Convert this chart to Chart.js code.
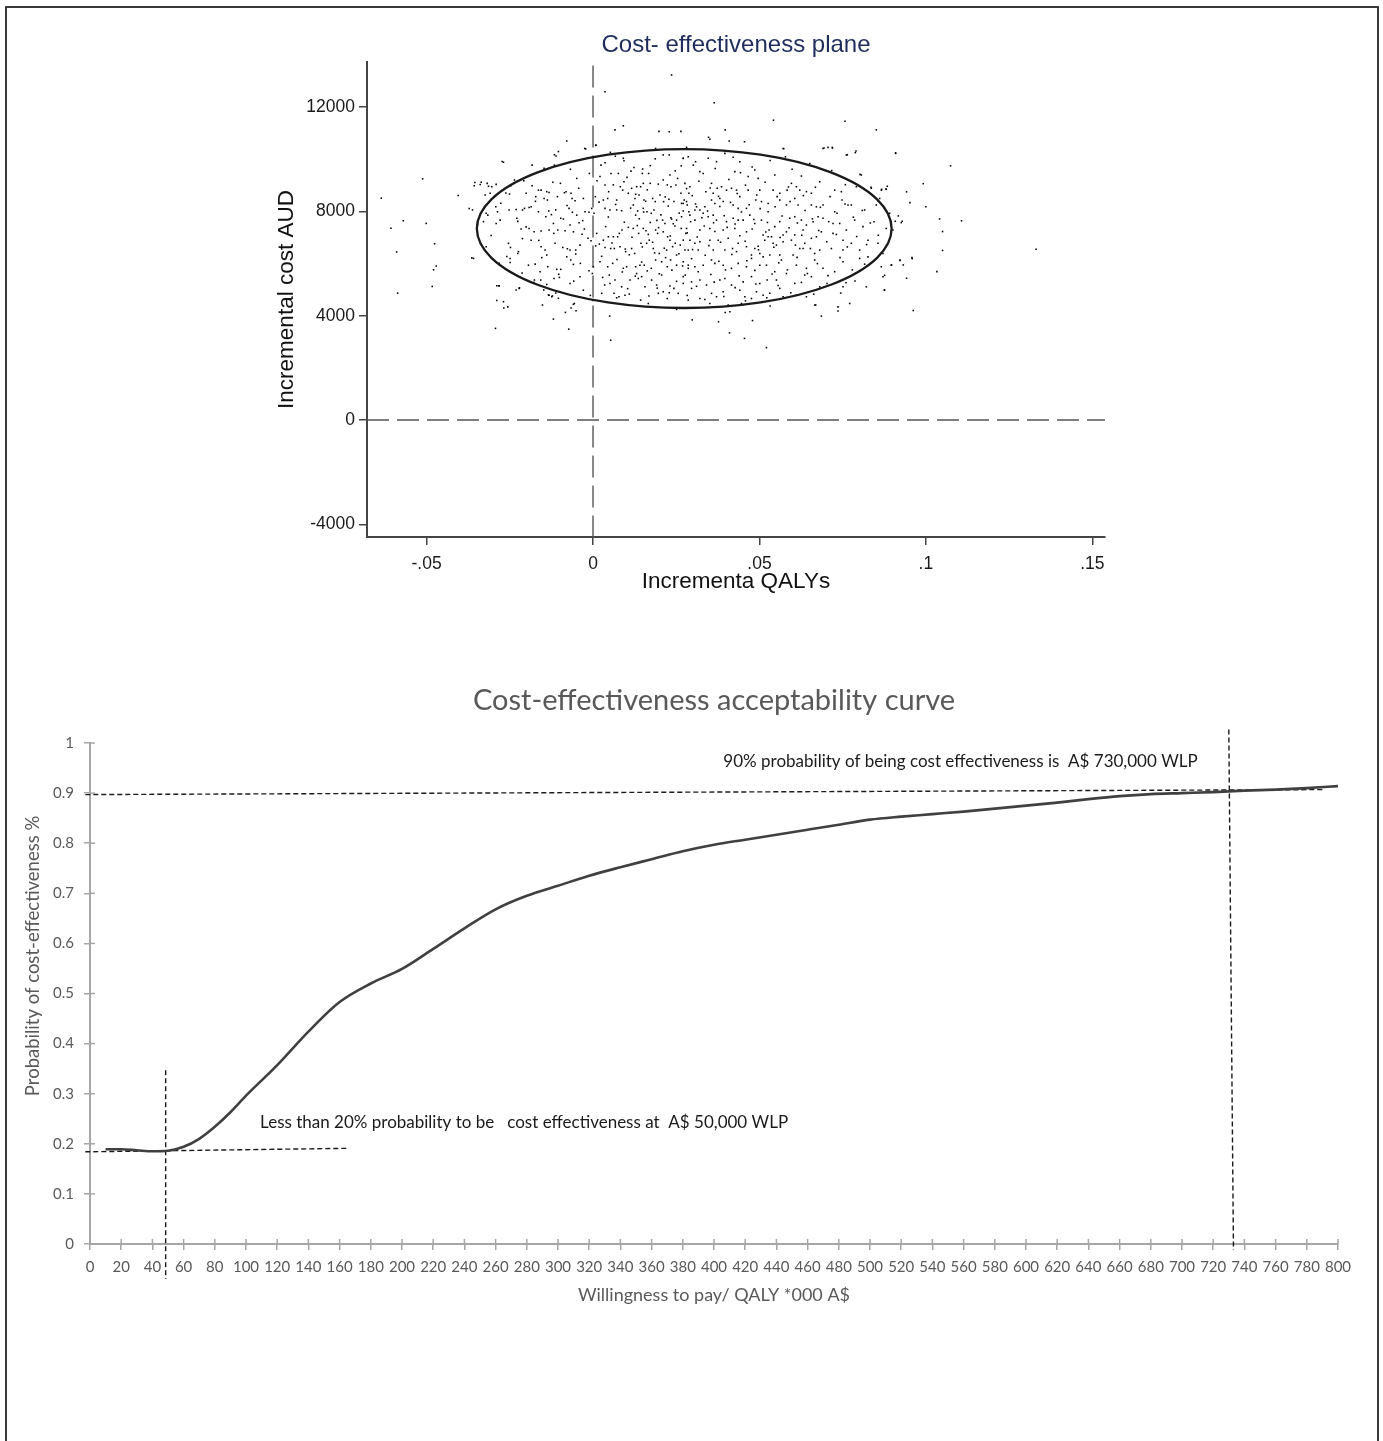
<!DOCTYPE html>
<html>
<head>
<meta charset="utf-8">
<title>Cost-effectiveness plane and acceptability curve</title>
<script src="https://cdn.jsdelivr.net/npm/chart.js@4.4.1/dist/chart.umd.min.js"></script>
<style>
  html, body { margin: 0; padding: 0; background: #fff; }
  body { width: 1383px; height: 1441px; position: relative; overflow: hidden; }
  #frame { position: absolute; left: 5px; top: 6px; width: 1370px; height: 1440px; border: 2px solid #3a3a3a; }
  canvas { position: absolute; }
</style>
</head>
<body>
<div id="frame"></div>
<canvas id="plane" width="880" height="610" style="left:250px;top:0px"></canvas>
<canvas id="ceac" width="1383" height="680" style="left:0px;top:660px"></canvas>
<script>
// ---- cost-effectiveness plane (bootstrap replicates: [incremental QALY, incremental cost AUD]) ----
var qalyRange = [-0.0679, 0.1538];
var costRange = [-4489, 13736];
var qalyTicks = [-0.05, 0, 0.05, 0.1, 0.15];
var qalyTickLabels = ['-.05', '0', '.05', '.1', '.15'];
var costTicks = [-4000, 0, 4000, 8000, 12000];
var costTickLabels = ['-4000', '0', '4000', '8000', '12000'];

// confidence ellipse: centre and half-widths
var ellipseCentre = [0.0274, 7345];
var ellipseRadius = [0.0623, 3048];

var outerPoints = [
[0.0236,13238],[0.0036,12598],[0.0364,12171],[0.0542,11502],[0.0757,11459],[0.0091,11288],[0.0198,11075],[0.0264,11075],
[0.0397,11132],[0.0851,11132],[0.0066,11132],[0.0347,10847],[-0.0079,10705],[0.0455,10676],[-0.0025,10420],[0.0008,10534],
[0.0694,10434],[0.0719,10434],[0.0790,10320],[0.0764,10178],[0.0909,10249],[-0.0116,10178],[-0.0273,9922],[0.1074,9751],
[-0.0512,9253],[0.0992,9068],[0.0802,9424],[-0.0355,9110],[-0.0339,9039],[-0.0314,8968],[0.0884,8968],[0.0942,8754],
[-0.0405,8612],[-0.0636,8512],[0.1000,8185],[-0.0372,8114],[0.0917,7830],[0.1041,7715],[0.1107,7644],[-0.0570,7644],
[-0.0501,7544],[0.0926,7573],[-0.0607,7359],[0.1050,7231],[-0.0476,6762],[0.1331,6548],[-0.0590,6448],[0.1050,6505],
[-0.0364,6221],[0.0959,6192],[0.0922,6121],[-0.0471,5907],[-0.0479,5765],[0.0876,5552],[0.1033,5694],[0.0942,5438],
[-0.0289,5153],[-0.0483,5125],[-0.0587,4868],[0.0760,5267],[-0.0289,4584],[-0.0152,4413],[0.0000,4584],[-0.0268,4299],
[-0.0066,4299],[0.0669,4413],[0.0736,4185],[-0.0083,4128],[0.0962,4200],[0.0050,3986],[0.0251,4242],[0.0397,4128],
[-0.0119,3872],[0.0298,3843],[0.0377,3772],[0.0479,3815],[0.0686,3986],[-0.0293,3516],[-0.0073,3488],[0.0410,3345],
[0.0455,3132],[0.0053,3061],[0.0521,2776],
[0.0229,11060],[0.0351,10770],[0.0409,10705],[0.0573,10410],[0.0835,8930],[0.0867,8850],[0.0880,8860],[0.0952,8340],
[0.0908,7625],[0.0929,7625],[0.0958,6230],[0.0922,6140],[0.0932,5950],[0.0897,5950],[0.0875,4990],[0.0532,4375],
[0.0411,4155],[-0.0283,5140],[-0.0222,5050],[-0.0059,4440],[-0.0051,4195],[-0.0104,4670],[-0.0134,4800],[-0.0122,4760],
[-0.0148,4990],[-0.0259,6270],[-0.0249,6040],[-0.0224,6460]
];

var leftCloud = [
[-0.0104,10300],[-0.0111,10130],[-0.0269,9890],[-0.0183,9780],[-0.0147,9660],[-0.0116,9780],[-0.0022,10400],[0.0009,10550],
[0.0036,9870],[0.0091,10040],[0.0093,9950],[0.0114,9550],[0.0149,9630],[0.0148,9460],[0.0172,9760],[0.0211,10170],
[0.0229,10170],[0.0265,9750],[0.0271,10040],[0.0281,10460],[0.0188,10420],
[-0.0357,8990],[-0.0336,9120],[-0.0318,9080],[-0.0304,8950],[-0.0291,9040],[-0.0247,8990],[-0.0236,9210],[-0.0208,9180],
[-0.0183,8990],[-0.0164,8820],[-0.0156,8820],[-0.0132,8730],[-0.0098,9080],[-0.0086,8720],[-0.0066,8700],[-0.0049,9270],
[0.0021,9340],[0.0036,9020],[0.0054,9460],[0.0061,9020],[0.0076,9460],[0.0093,9140],[0.0116,8890],[0.0131,8950],
[0.0143,8950],[0.0151,9080],[0.0167,9460],[0.0172,9080],[0.0211,9210],[0.0223,9020],[0.0231,9400],[0.0234,8950],
[0.0249,9020],[0.0264,8700],[0.0276,9080],[0.0288,8700],
[-0.0324,8630],[-0.0309,8700],[-0.0251,8670],[-0.0201,8700],[-0.0172,8570],[-0.0139,8760],[-0.0147,8500],[-0.0137,8440],
[-0.0107,8570],[-0.0081,8760],[-0.0063,8500],[-0.0029,8500],[0.0007,8570],[0.0031,8440],[0.0044,8500],[0.0071,8440],
[0.0089,8820],[0.0106,8700],[0.0126,8500],[0.0138,8630],[0.0153,8440],[0.0179,8500],[0.0187,8380],[0.0201,8630],
[0.0212,8380],[0.0228,8470],[0.0243,8380],[0.0266,8310],[0.0283,8250],
[-0.0362,8060],[-0.0321,7930],[-0.0316,7860],[-0.0292,8180],[-0.0287,7990],[-0.0252,8060],[-0.0231,8080],[-0.0212,8060],
[-0.0206,8120],[-0.0192,8150],[-0.0186,8180],[-0.0164,7990],[-0.0142,7800],[-0.0133,8020],[-0.0112,8060],[-0.0097,7740],
[-0.0089,7710],[-0.0072,8120],[-0.0062,7970],[-0.0049,7860],[-0.0024,7990],[-0.0012,7970],[-0.0004,8120],[0.0003,7930],
[0.0036,8120],[0.0051,8060],[0.0071,8060],[0.0086,8030],[0.0121,8250],[0.0128,7860],[0.0134,8020],[0.0151,8120],
[0.0162,7990],[0.0175,7930],[0.0192,7660],[0.0209,7670],[0.0216,7540],[0.0234,7760],[0.0251,7670],[0.0271,8020],
[0.0288,7990],
[-0.0347,7510],[-0.0329,7610],[-0.0291,7540],[-0.0279,7670],[-0.0229,7740],[-0.0216,7330],[-0.0192,7350],[-0.0177,7220],
[-0.0156,7250],[-0.0132,7290],[-0.0119,7540],[-0.0106,7290],[-0.0084,7260],[-0.0069,7480],[-0.0059,7220],[-0.0042,7570],
[-0.0033,7130],[-0.0015,6970],[0.0011,7160],[0.0031,6900],[0.0046,7030],[0.0061,7030],[0.0074,7030],[0.0087,7290],
[0.0106,7390],[0.0121,7350],[0.0137,7160],[0.0151,7350],[0.0159,7260],[0.0169,6900],[0.0188,7290],[0.0194,7160],
[0.0211,7220],[0.0224,7030],[0.0231,6900],[0.0247,6780],[0.0265,7350],[0.0279,7160],
[-0.0321,6650],[-0.0254,6780],[-0.0186,6900],[-0.0156,6650],[-0.0144,6520],[-0.0139,6330],[-0.0114,6780],[-0.0091,6620],
[-0.0069,6520],[-0.0052,6520],[-0.0039,6710],[-0.0006,6880],[0.0019,6750],[0.0036,6620],[0.0053,6580],[0.0064,6580],
[0.0081,6650],[0.0098,6460],[0.0116,6580],[0.0125,6390],[0.0144,6780],[0.0161,6780],[0.0181,6580],[0.0199,6390],
[0.0221,6520],[0.0239,6650],[0.0251,6330],[0.0276,6520],
[-0.0359,6200],[-0.0249,6200],[-0.0226,6390],[-0.0194,5940],[-0.0174,5980],[-0.0159,5690],[-0.0136,5880],[-0.0109,5780],
[-0.0097,5780],[-0.0079,6260],[-0.0067,6140],[-0.0059,5970],[-0.0038,6010],[0.0001,5880],[0.0021,6070],[0.0044,5880],
[0.0059,6010],[0.0091,5820],[0.0101,5880],[0.0128,5880],[0.0141,5940],[0.0154,5940],[0.0175,5820],[0.0188,6140],
[0.0206,6070],[0.0223,5880],[0.0233,6140],[0.0251,5940],[0.0269,5910],[0.0286,5820],
[-0.0282,5150],[-0.0221,5070],[-0.0176,5370],[-0.0157,5370],[-0.0139,5200],[-0.0117,5430],[-0.0101,5470],[-0.0069,5240],
[-0.0039,5500],[-0.0002,5620],[0.0029,5470],[0.0051,5240],[0.0066,5370],[0.0086,5110],[0.0111,5370],[0.0131,5620],
[0.0146,5500],[0.0156,5110],[0.0176,5370],[0.0191,5180],[0.0206,5560],[0.0231,5140],[0.0243,5050],[0.0271,5240],
[-0.0269,4540],[-0.0256,4340],[-0.0132,4790],[-0.0124,4730],[-0.0099,4920],[-0.0056,4470],[-0.0029,4980],[0.0026,4860],
[0.0063,4860],[0.0078,4730],[0.0096,4790],[0.0109,4830],[0.0143,4600],[0.0166,4470],[0.0196,4860],[0.0211,4920],
[0.0229,4880],[0.0256,4860]
];

var rightCloud = [
[0.0271,10040],[0.0286,10100],[0.0301,9780],[0.0346,10040],[0.0371,9910],[0.0396,10230],[0.0441,9910],[0.0426,9530],
[0.0443,9490],[0.0466,9340],[0.0486,9590],[0.0496,9270],[0.0546,9400],[0.0571,10420],[0.0578,10100],[0.0626,9360],
[0.0691,10420],[0.0706,10460],[0.0719,10460],[0.0761,10170],[0.0788,10260],[0.0806,9400],[0.0909,10230],[0.0321,9530],
[0.0331,9460],[0.0356,9080],
[0.0291,8950],[0.0339,8760],[0.0361,8700],[0.0373,8890],[0.0386,8950],[0.0401,8820],[0.0416,8890],[0.0431,8820],
[0.0466,8820],[0.0501,8820],[0.0541,8820],[0.0561,8700],[0.0583,8820],[0.0596,9080],[0.0611,8950],[0.0621,8820],
[0.0641,8760],[0.0656,8700],[0.0681,9140],[0.0726,8820],[0.0746,8760],[0.0836,8890],[0.0861,8500],[0.0866,8820],
[0.0881,8850],[0.0791,8950],
[0.0271,8310],[0.0281,8380],[0.0311,8180],[0.0321,8060],[0.0306,8060],[0.0336,8180],[0.0356,8440],[0.0366,8310],
[0.0381,8500],[0.0391,8380],[0.0421,8250],[0.0436,8120],[0.0441,8570],[0.0461,8120],[0.0489,8440],[0.0506,8380],
[0.0526,8310],[0.0561,8440],[0.0581,8250],[0.0606,8500],[0.0616,8250],[0.0656,8250],[0.0671,8180],[0.0691,8250],
[0.0726,7990],[0.0748,8440],[0.0766,8250],[0.0776,8250],[0.0816,8060],[0.0851,8250],[0.0891,7930],
[0.0266,7800],[0.0291,7860],[0.0306,7670],[0.0331,7930],[0.0346,7800],[0.0361,7860],[0.0371,7670],[0.0401,7610],
[0.0421,7740],[0.0436,7670],[0.0451,7670],[0.0471,7860],[0.0486,7540],[0.0506,7670],[0.0526,7990],[0.0546,7420],
[0.0561,7610],[0.0591,7740],[0.0606,7800],[0.0626,7670],[0.0641,7480],[0.0661,7610],[0.0676,7800],[0.0691,7740],
[0.0721,7540],[0.0741,7540],[0.0761,7290],[0.0786,7670],[0.0811,7420],[0.0844,7610],[0.0881,7350],[0.0901,7290],
[0.0281,7350],[0.0321,7290],[0.0351,7350],[0.0391,7290],[0.0426,7350],[0.0461,7220],[0.0511,7100],[0.0529,7290],
[0.0536,7030],[0.0571,7100],[0.0581,7220],[0.0606,7100],[0.0631,7290],[0.0671,7030],[0.0686,7220],[0.0721,7160],
[0.0751,6900],
[0.0271,6900],[0.0291,6900],[0.0306,6780],[0.0321,6840],[0.0351,6900],[0.0376,6900],[0.0406,6970],[0.0436,6780],
[0.0461,6650],[0.0486,6580],[0.0496,6670],[0.0516,6900],[0.0526,7030],[0.0541,6780],[0.0551,6710],[0.0571,6840],
[0.0596,6900],[0.0621,6580],[0.0636,6780],[0.0656,6970],[0.0666,6390],[0.0681,6520],[0.0716,6580],[0.0751,6520],
[0.0776,6780],[0.0801,6520],[0.0826,6900],[0.0856,6780],[0.0871,6390],[0.0286,6520],[0.0316,6520],[0.0361,6520],
[0.0396,6520],[0.0431,6460],[0.0476,6330],[0.0501,6390],[0.0531,6330],[0.0561,6330],[0.0601,6330],[0.0631,6580],
[0.0271,6070],[0.0286,5940],[0.0306,5880],[0.0331,5940],[0.0356,6140],[0.0366,6010],[0.0391,5940],[0.0416,5820],
[0.0436,6010],[0.0461,5880],[0.0476,6200],[0.0501,5940],[0.0521,5940],[0.0546,5690],[0.0566,6140],[0.0611,5940],
[0.0641,5820],[0.0666,6140],[0.0691,5820],[0.0726,5690],[0.0751,6070],[0.0801,6200],[0.0826,6260],[0.0866,5880],
[0.0896,5940],
[0.0271,5500],[0.0296,5300],[0.0321,5370],[0.0341,5180],[0.0381,5370],[0.0396,5430],[0.0416,5180],[0.0451,5300],
[0.0476,5500],[0.0501,5240],[0.0523,5370],[0.0551,5370],[0.0581,5620],[0.0606,5240],[0.0636,5560],[0.0656,5500],
[0.0681,5110],[0.0751,5110],[0.0821,5110],[0.0871,5500],[0.0876,4980],[0.0296,5050],[0.0356,4860],[0.0391,4920],
[0.0441,4980],[0.0456,4730],[0.0491,4920],[0.0531,4860],[0.0561,5050],
[0.0286,4600],[0.0321,4660],[0.0351,4470],[0.0371,4730],[0.0406,4410],[0.0446,4470],[0.0476,4660],[0.0511,4790],
[0.0571,4730],[0.0611,4790],[0.0641,4730],[0.0666,4410],[0.0736,4340],[0.0771,4470]
];

// further replicates in the crowded middle of the cloud (positions estimated)
var denseCore = [
[-0.0195,9350],[-0.0121,9120],[-0.0043,8890],[0.0012,9180],[0.0047,8760],[0.0102,9310],[0.0128,8660],[0.0163,8830],
[0.0196,9050],[0.0217,8560],[0.0254,9270],[0.0298,8610],[0.0318,9160],[0.0352,8900],[0.0377,8580],[0.0408,9230],
[0.0433,8690],[0.0458,9010],[0.0492,8630],[0.0517,9120],[0.0553,8570],[0.0587,8940],[0.0632,8610],[0.0668,8930],
[0.0712,8570],[0.0758,9030],[-0.0262,8710],[-0.0011,9460],[0.0082,8950],[0.0281,8880],
[-0.0277,8320],[-0.0226,7620],[-0.0173,8390],[-0.0125,7880],[-0.0078,8230],[-0.0031,7650],[0.0018,8360],[0.0046,7790],
[0.0068,8270],[0.0094,7590],[0.0113,8130],[0.0139,7720],[0.0158,8390],[0.0172,7580],[0.0183,8060],[0.0204,7870],
[0.0226,8210],[0.0241,7530],[0.0259,7940],[0.0274,8440],[0.0293,7610],[0.0308,8290],[0.0327,7760],[0.0344,8020],
[0.0362,7570],[0.0381,8190],[0.0394,7840],[0.0413,8350],[0.0427,7520],[0.0446,7980],[0.0469,8260],[0.0483,7690],
[0.0502,8110],[0.0524,7580],[0.0547,8180],[0.0568,7830],[0.0592,8380],[0.0614,7560],[0.0637,8040],[0.0659,7720],
[0.0683,8160],[0.0708,7610],[0.0733,7930],[0.0757,8290],[0.0782,7780],[0.0809,8040],[0.0833,7560],[-0.0054,8410],
[0.0152,7980],[0.0236,7710],
[-0.0306,7080],[-0.0248,6620],[-0.0201,7410],[-0.0163,6890],[-0.0118,7160],[-0.0077,6570],[-0.0026,7330],[0.0008,6680],
[0.0038,7420],[0.0057,6790],[0.0079,7160],[0.0097,6560],[0.0117,7010],[0.0133,7460],[0.0148,6640],[0.0166,7120],
[0.0179,6820],[0.0197,7380],[0.0214,6590],[0.0232,7060],[0.0246,7440],[0.0262,6710],[0.0283,7180],[0.0299,6540],
[0.0313,7020],[0.0334,7440],[0.0348,6690],[0.0366,7230],[0.0383,6820],[0.0403,7390],[0.0419,6580],[0.0441,7070],
[0.0457,6860],[0.0478,7330],[0.0497,6530],[0.0519,7210],[0.0543,6630],[0.0562,7000],[0.0589,7380],[0.0608,6710],
[0.0627,7090],[0.0653,6580],[0.0678,7270],[0.0702,6840],[0.0731,7120],[0.0764,6640],[0.0792,7040],[0.0822,6730],
[0.0857,7090],[-0.0212,6960],
[-0.0282,6010],[-0.0213,5640],[-0.0154,6230],[-0.0103,5590],[-0.0052,6370],[-0.0012,5730],[0.0026,6280],[0.0049,5560],
[0.0072,6160],[0.0088,5680],[0.0109,6340],[0.0127,5520],[0.0146,6060],[0.0163,5720],[0.0185,6410],[0.0199,5610],
[0.0218,6230],[0.0237,5750],[0.0258,6380],[0.0277,5560],[0.0296,6190],[0.0316,5690],[0.0337,6320],[0.0354,5580],
[0.0378,6090],[0.0398,5760],[0.0417,6350],[0.0439,5530],[0.0462,6110],[0.0486,5740],[0.0511,6260],[0.0538,5600],
[0.0558,6030],[0.0584,5760],[0.0613,6240],[0.0644,5620],[0.0674,6000],[0.0706,5540],[0.0742,6230],[0.0779,5760],
[0.0816,5980],
[-0.0231,4990],[-0.0178,5280],[-0.0112,4870],[-0.0058,5330],[-0.0008,4780],[0.0035,5180],[0.0071,4690],[0.0104,5040],
[0.0136,5430],[0.0168,4760],[0.0193,5060],[0.0223,4660],[0.0251,5320],[0.0283,4780],[0.0311,5130],[0.0336,4620],
[0.0364,5290],[0.0393,4740],[0.0427,5080],[0.0458,4570],[0.0489,5220],[0.0522,4690],[0.0556,5160],[0.0594,4880],
[0.0626,5280],[0.0663,4830],[0.0703,5240],[0.0744,4870],[0.0787,5330],
[-0.0068,9620],[0.0024,9780],[0.0067,10120],[0.0123,9690],[0.0187,10020],[0.0247,9560],[0.0308,9910],[0.0367,9650],
[0.0421,10080],[0.0478,9710],[0.0532,9960],[0.0598,9620],[0.0651,9840],[0.0717,9570],[0.0052,10270]
];

// ---- acceptability curve ----
var wtp = [10, 20, 30, 40, 50, 60, 70, 80, 90, 100, 120, 140, 160, 180, 200, 220, 240, 260, 280, 300,
           320, 340, 360, 380, 400, 420, 440, 460, 480, 500, 520, 540, 560, 580, 600, 620, 640, 660,
           680, 700, 720, 740, 760, 780, 800];
var probCE = [0.189, 0.189, 0.187, 0.185, 0.186, 0.194, 0.210, 0.234, 0.263, 0.296, 0.357, 0.424, 0.483, 0.520,
              0.549, 0.589, 0.630, 0.668, 0.695, 0.715, 0.735, 0.752, 0.768, 0.784, 0.797, 0.807, 0.817, 0.827,
              0.837, 0.847, 0.853, 0.858, 0.863, 0.869, 0.875, 0.881, 0.888, 0.894, 0.898, 0.900, 0.902, 0.905,
              0.907, 0.910, 0.914];
var line90 = [[-3, 0.897], [790, 0.907]];
var line20 = [[-3, 0.184], [166, 0.191]];
var wtp730 = [[730, 1.027], [733, -0.012]];
var wtp50 = [[48.5, 0.347], [48.5, -0.07]];
var notes = [
  { x: 406, y: 0.964, text: '90% probability of being cost effectiveness is  A$ 730,000 WLP' },
  { x: 109, y: 0.2415, text: 'Less than 20% probability to be   cost effectiveness at  A$ 50,000 WLP' }
];

function toXY(arr) {
    return arr.map(function (p) { return { x: p[0], y: p[1] }; });
}

Chart.defaults.animation = false;
Chart.defaults.events = [];
Chart.defaults.plugins.tooltip.enabled = false;
Chart.defaults.plugins.legend.display = false;

// ellipse is drawn through the chart's own scales
var ellipsePlugin = {
    id: 'ellipse',
    afterDatasetsDraw: function (chart) {
	var xs = chart.scales.x, ys = chart.scales.y, ctx = chart.ctx;
	var cx = xs.getPixelForValue(ellipseCentre[0]);
	var cy = ys.getPixelForValue(ellipseCentre[1]);
	var rx = Math.abs(xs.getPixelForValue(ellipseCentre[0] + ellipseRadius[0]) - cx);
	var ry = Math.abs(ys.getPixelForValue(ellipseCentre[1] + ellipseRadius[1]) - cy);
	ctx.save();
	ctx.beginPath();
	ctx.ellipse(cx, cy, rx, ry, 0, 0, Math.PI * 2);
	ctx.lineWidth = 2.3;
	ctx.strokeStyle = '#1a1a1a';
	ctx.stroke();
	ctx.restore();
    }
};

var plainFont = 'Liberation Sans, Arial, sans-serif';
var dotStyle = { pointRadius: 1.1, pointStyle: 'rect', pointBackgroundColor: '#000', pointBorderWidth: 0, showLine: false };

new Chart(document.getElementById('plane'), {
    type: 'scatter',
    data: {
	datasets: [
	    Object.assign({ data: toXY(leftCloud) }, dotStyle),
	    Object.assign({ data: toXY(rightCloud) }, dotStyle),
	    Object.assign({ data: toXY(denseCore) }, dotStyle),
	    Object.assign({ data: toXY(outerPoints) }, dotStyle),
	    { type: 'line', data: [{ x: qalyRange[0], y: 0 }, { x: qalyRange[1], y: 0 }],
	      borderColor: '#555', borderWidth: 1.4, borderDash: [22, 8], pointRadius: 0, clip: false },
	    { type: 'line', data: [{ x: 0, y: 13600 }, { x: 0, y: costRange[0] }],
	      borderColor: '#555', borderWidth: 1.4, borderDash: [22, 8], pointRadius: 0, clip: false }
	]
    },
    options: {
	responsive: false,
	devicePixelRatio: 1,
	layout: { padding: { left: 0, right: 25, top: 0, bottom: 0 } },
	plugins: {
	    title: {
		display: true, text: 'Cost- effectiveness plane', fullSize: false,
		font: { family: plainFont, size: 24, weight: 'normal' }, color: '#1f2d5c',
		padding: { top: 30.6, bottom: 2.6 }
	    }
	},
	scales: {
	    x: {
		type: 'linear', min: qalyRange[0], max: qalyRange[1],
		afterBuildTicks: function (s) { s.ticks = qalyTicks.map(function (v) { return { value: v }; }); },
		afterFit: function (s) { s.height = 73; },
		ticks: {
		    callback: function (v, i) { return qalyTickLabels[i]; },
		    font: { family: plainFont, size: 17.5 }, color: '#1a1a1a', padding: 9, maxRotation: 0
		},
		grid: { drawOnChartArea: false, drawTicks: true, tickLength: 8, color: '#444', lineWidth: 1.5 },
		border: { color: '#444', width: 2 },
		title: { display: true, text: 'Incrementa QALYs', font: { family: plainFont, size: 22.5 },
			 color: '#111', padding: { top: 0, bottom: 14.5 } }
	    },
	    y: {
		type: 'linear', min: costRange[0], max: costRange[1],
		afterBuildTicks: function (s) { s.ticks = costTicks.map(function (v) { return { value: v }; }); },
		afterFit: function (s) { s.width = 117; },
		ticks: {
		    callback: function (v, i) { return costTickLabels[i]; },
		    font: { family: plainFont, size: 17.5 }, color: '#1a1a1a', padding: 4
		},
		grid: { drawOnChartArea: false, drawTicks: true, tickLength: 8, color: '#444', lineWidth: 1.5 },
		border: { color: '#444', width: 2 },
		title: { display: true, text: 'Incremental cost AUD', font: { family: plainFont, size: 22.5 },
			 color: '#111', padding: { top: 23.5, bottom: 0 } }
	    }
	}
    },
    plugins: [ellipsePlugin]
});

// ---- acceptability curve chart ----
var greyFont = 'Lato, Carlito, Calibri, sans-serif';
var axisGrey = '#a6a6a6';

// Excel style tick marks that cross the axis, plus the text notes
var ceacExtras = {
    id: 'ceacExtras',
    afterDraw: function (chart) {
	var ctx = chart.ctx, xs = chart.scales.x, ys = chart.scales.y, area = chart.chartArea;
	ctx.save();
	ctx.strokeStyle = axisGrey;
	ctx.lineWidth = 1.5;
	xs.ticks.forEach(function (t) {
	    var px = xs.getPixelForValue(t.value);
	    ctx.beginPath(); ctx.moveTo(px, area.bottom); ctx.lineTo(px, area.bottom - 5); ctx.stroke();
	});
	ys.ticks.forEach(function (t) {
	    var py = ys.getPixelForValue(t.value);
	    ctx.beginPath(); ctx.moveTo(area.left, py); ctx.lineTo(area.left + 5, py); ctx.stroke();
	});
	ctx.fillStyle = '#1a1a1a';
	ctx.font = '17px ' + greyFont;
	ctx.textAlign = 'left';
	ctx.textBaseline = 'middle';
	notes.forEach(function (n) {
	    ctx.fillText(n.text, xs.getPixelForValue(n.x), ys.getPixelForValue(n.y));
	});
	// y axis title sits above the middle of the axis in the original
	ctx.translate(33, ys.getPixelForValue(0.575));
	ctx.rotate(-Math.PI / 2);
	ctx.textAlign = 'center';
	ctx.fillStyle = '#595959';
	ctx.font = '18.5px ' + greyFont;
	ctx.fillText('Probability of cost-effectiveness %', 0, 0);
	ctx.restore();
    }
};

var dashStyle = { borderColor: '#1a1a1a', borderWidth: 1.4, borderDash: [5, 3], pointRadius: 0, clip: false, fill: false };

new Chart(document.getElementById('ceac'), {
    type: 'line',
    data: {
	datasets: [
	    { data: wtp.map(function (w, i) { return { x: w, y: probCE[i] }; }),
	      borderColor: '#404040', borderWidth: 2.6, pointRadius: 0, cubicInterpolationMode: 'monotone', fill: false },
	    Object.assign({ data: toXY(line90) }, dashStyle),
	    Object.assign({ data: toXY(line20) }, dashStyle),
	    Object.assign({ data: toXY(wtp730) }, dashStyle),
	    Object.assign({ data: toXY(wtp50) }, dashStyle)
	]
    },
    options: {
	responsive: false,
	devicePixelRatio: 1,
	layout: { padding: { left: 0, right: 45, top: 0, bottom: 0 } },
	plugins: {
	    title: {
		display: true, text: 'Cost-effectiveness acceptability curve', fullSize: false,
		font: { family: greyFont, size: 29, weight: 'normal' }, color: '#595959',
		padding: { top: 23.6, bottom: 24.6 }
	    }
	},
	scales: {
	    x: {
		type: 'linear', min: 0, max: 800,
		afterFit: function (s) { s.height = 96; },
		ticks: { stepSize: 20, autoSkip: false, maxRotation: 0, font: { family: greyFont, size: 15 },
			 color: '#595959', padding: 8 },
		grid: { drawOnChartArea: false, drawTicks: true, tickLength: 6, color: axisGrey, lineWidth: 1.5 },
		border: { color: axisGrey, width: 2 },
		title: { display: true, text: 'Willingness to pay/ QALY *000 A$', font: { family: greyFont, size: 18 },
			 color: '#595959', padding: { top: 0, bottom: 34 } }
	    },
	    y: {
		type: 'linear', min: 0, max: 1,
		afterFit: function (s) { s.width = 90; },
		ticks: { stepSize: 0.1, font: { family: greyFont, size: 15 }, color: '#595959', padding: 10,
			 callback: function (v) { return String(Math.round(v * 10) / 10); } },
		grid: { drawOnChartArea: false, drawTicks: true, tickLength: 6, color: axisGrey, lineWidth: 1.5 },
		border: { color: axisGrey, width: 2 }
	    }
	}
    },
    plugins: [ceacExtras]
});
</script>
</body>
</html>
